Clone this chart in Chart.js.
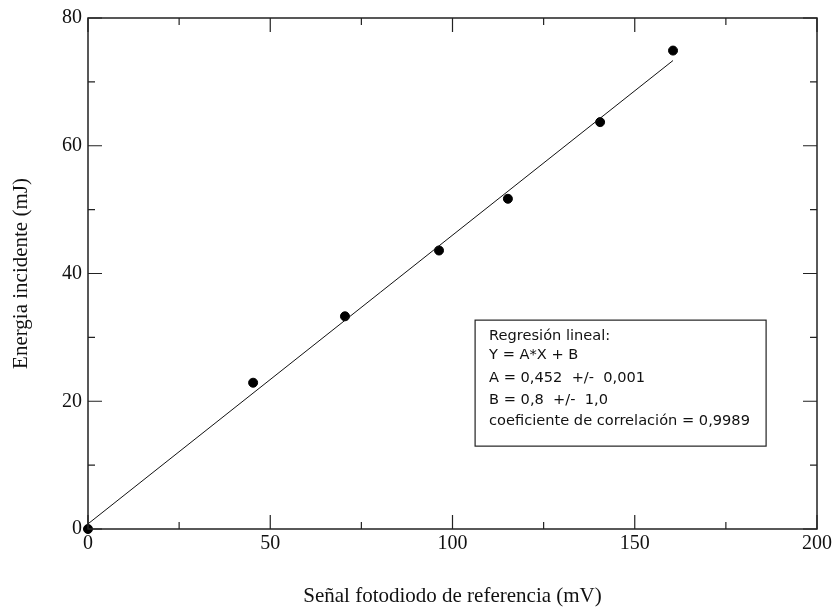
<!DOCTYPE html>
<html>
<head>
<meta charset="utf-8">
<script src="https://cdn.jsdelivr.net/npm/chart.js@4"></script>
<style>
  html, body { margin: 0; padding: 0; background: #fff; }
  #wrap { width: 835px; height: 609px; }
</style>
</head>
<body>
<div id="wrap"><canvas id="calib"></canvas></div>
<script>
// medidas: señal del fotodiodo (mV) y energía incidente (mJ)
const senal = [0, 45.3, 70.5, 96.3, 115.2, 140.5, 160.5];
const energia = [0, 22.9, 33.3, 43.6, 51.7, 63.7, 74.9];

// ajuste lineal Y = A*X + B
const A = 0.452;
const B = 0.8;
const ajusteTexto = [
  'Regresión lineal:',
  'Y = A*X + B',
  'A = 0,452  +/-  0,001',
  'B = 0,8  +/-  1,0',
  'coeficiente de correlación = 0,9989'
];

const xMax = senal[senal.length - 1];
const recta = [{ x: 0, y: B }, { x: xMax, y: A * xMax + B }];

// marco completo + marcas hacia dentro en los cuatro lados + cuadro de texto
const marco = {
  id: 'marco',
  afterDraw(chart) {
    const { ctx, chartArea: ca, scales } = chart;
    const xs = scales.x, ys = scales.y;
    ctx.save();
    ctx.strokeStyle = '#222';
    ctx.lineWidth = 1.5;
    ctx.strokeRect(ca.left, ca.top, ca.right - ca.left, ca.bottom - ca.top);

    ctx.lineWidth = 1.2;
    ctx.beginPath();
    for (let v = 0; v <= 200; v += 25) {
      const len = v % 50 === 0 ? 14 : 7;
      const px = xs.getPixelForValue(v);
      ctx.moveTo(px, ca.bottom); ctx.lineTo(px, ca.bottom - len);
      ctx.moveTo(px, ca.top); ctx.lineTo(px, ca.top + len);
    }
    for (let v = 0; v <= 80; v += 10) {
      const len = v % 20 === 0 ? 14 : 7;
      const py = ys.getPixelForValue(v);
      ctx.moveTo(ca.left, py); ctx.lineTo(ca.left + len, py);
      ctx.moveTo(ca.right, py); ctx.lineTo(ca.right - len, py);
    }
    ctx.stroke();

    // cuadro con los resultados del ajuste
    const bx = xs.getPixelForValue(106.2), by = ys.getPixelForValue(32.7);
    const bw = 291, bh = 126;
    ctx.fillStyle = '#fff';
    ctx.fillRect(bx, by, bw, bh);
    ctx.lineWidth = 1.2;
    ctx.strokeRect(bx, by, bw, bh);
    ctx.fillStyle = '#111';
    ctx.font = '14.6px "DejaVu Sans"';
    ctx.textBaseline = 'middle';
    const filas = [16, 35, 58, 80, 101];
    ajusteTexto.forEach((t, i) => ctx.fillText(t, bx + 14, by + filas[i]));
    ctx.restore();
  }
};

const serif = '"Liberation Serif", "Times New Roman", serif';

new Chart(document.getElementById('calib'), {
  type: 'scatter',
  data: {
    datasets: [
      {
        label: 'Ajuste',
        type: 'line',
        data: recta,
        borderColor: '#111',
        borderWidth: 1,
        pointRadius: 0,
        fill: false
      },
      {
        label: 'Medidas',
        data: senal.map((x, i) => ({ x: x, y: energia[i] })),
        backgroundColor: '#000',
        borderColor: '#000',
        pointRadius: 4.5,
        clip: false
      }
    ]
  },
  options: {
    responsive: true,
    maintainAspectRatio: false,
    animation: false,
    layout: { padding: { top: 13, right: 18 } },
    plugins: {
      legend: { display: false },
      tooltip: { enabled: false }
    },
    scales: {
      x: {
        type: 'linear',
        min: 0,
        max: 200,
        afterFit(s) { s.height = 80; },
        border: { display: false },
        grid: { drawOnChartArea: false, drawTicks: false },
        ticks: { stepSize: 50, padding: 3, color: '#111', font: { family: serif, size: 20 } },
        title: {
          display: true,
          text: 'Señal fotodiodo de referencia (mV)',
          color: '#111',
          font: { family: serif, size: 21 },
          padding: { top: 0, bottom: 0 }
        }
      },
      y: {
        min: 0,
        max: 80,
        afterFit(s) { s.width = 88; },
        border: { display: false },
        grid: { drawOnChartArea: false, drawTicks: false },
        ticks: { stepSize: 20, padding: 6, color: '#111', font: { family: serif, size: 20 } },
        title: {
          display: true,
          text: 'Energia incidente (mJ)',
          color: '#111',
          font: { family: serif, size: 21 },
          padding: { top: 9, bottom: 0 }
        }
      }
    }
  },
  plugins: [marco]
});
</script>
</body>
</html>
